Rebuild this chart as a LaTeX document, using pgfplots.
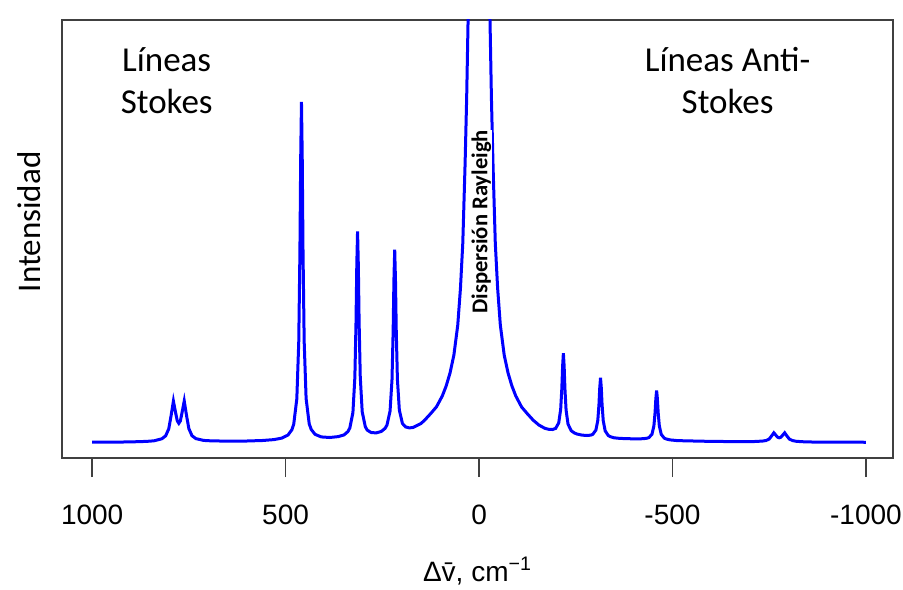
\documentclass[border=0pt]{standalone}
\usepackage{fontspec}
\setmainfont{Carlito}
\newfontfamily\arial{Liberation Sans}
\usepackage{pgfplots}
\pgfplotsset{compat=1.18}

\begin{document}
\begin{tikzpicture}
\begin{axis}[
    name=ax,
    scale only axis,
    width=415.5pt, height=219pt,
    x dir=reverse,
    xmin=-1070, xmax=1078,
    ymin=-15, ymax=423,
    axis line style={black!75, line width=0.8pt},
    xtick={1000,500,0,-500,-1000},
    xticklabels={1000,500,0,-500,-1000},
    ytick=\empty,
    xtick pos=bottom,
    tick align=outside,
    major tick length=9.5pt,
    tick style={black!75, line width=0.8pt},
    xticklabel style={font=\arial\fontsize{14}{14}\selectfont},
    xticklabel shift=10.5pt,
    xlabel={\arial\fontsize{14}{14}\selectfont Δ\={v}, cm\textsuperscript{−1}},
    xlabel style={at={(axis description cs:0.5,0)}, anchor=north, yshift=-46pt},
    ylabel={\fontsize{16.5}{16.5}\selectfont Intensidad},
    ylabel style={at={(axis description cs:-0.04,0.539)}, anchor=center},
]
% espectro Raman: Stokes (x>0), Rayleigh (0), anti-Stokes (x<0)
\addplot[blue, line width=1.5pt] coordinates {
    (1000,0.8) (950,0.85) (900,1.1) (860,1.6) (840,2.2) (820,4.2) (810,7.2)
    (802,14.2) (796,27.3) (790,41.9) (784,29.7) (780,22.1) (776,19.7) (772,22.1)
    (768,29.7) (762,42.0) (756,27.3) (750,14.3) (742,7.3) (732,4.4) (712,2.6)
    (690,2.1) (650,1.9) (600,2.0) (560,2.5) (530,3.4) (510,4.9) (494,7.9)
    (484,13.1) (479,18.8) (471,44.2) (466,101.3) (463,191.6) (461,284.8) (459,341)
    (457,284.8) (455,191.6) (452,101.5) (447,44.4) (439,19.3) (434,13.7) (424,8.7)
    (408,6.1) (386,5.5) (364,6.4) (349,8.1) (339,11.4) (334,15) (326,30.5)
    (321,65.5) (318,120.6) (316,177.5) (314,211.6) (312,177.6) (310,120.9) (307,65.9)
    (302,31.2) (294,16.3) (289,12.9) (279,10.5) (266,10.1) (253,11.5) (243,14.6)
    (238,17.9) (230,31.9) (225,63.1) (222,112.3) (220,163) (218,193.3) (216,163)
    (214,112.7) (211,63.6) (206,32.9) (198,19.5) (190,16.1) (180,15.1) (170,15.6)
    (160,17.6) (150,19.5) (140,23.1) (125,29.4) (110,36.2) (95,47) (85,57)
    (75,70) (65,88) (55,118) (48,155) (42,200) (36,280) (32,345) (28,430)
    (22,700) (15,1500) (0,5000)
    (-15,1500) (-22,700) (-28,430) (-32,345) (-36,280) (-42,200) (-48,155)
    (-55,118) (-65,88) (-75,70) (-85,57) (-95,47) (-110,36) (-125,29.2)
    (-140,22.8) (-155,17.9) (-170,14.7) (-180,13.7) (-190,13.5) (-198,14.6)
    (-206,20.2) (-211,33.6) (-214,54.7) (-216,76.7) (-218,89.9) (-220,76.6)
    (-222,54.3) (-225,32.8) (-230,18.9) (-238,12.4) (-246,10.1) (-253,9.0)
    (-266,7.9) (-279,7.5) (-289,7.9) (-294,8.7) (-302,12.9) (-307,22.7)
    (-310,38.7) (-312,55.2) (-314,65.2) (-316,55.2) (-318,38.5) (-321,22.4)
    (-326,12.2) (-334,7.5) (-339,6.4) (-349,5.2) (-364,4.6) (-386,4.3)
    (-408,4.1) (-424,4.3) (-434,4.8) (-439,5.4) (-447,8.8) (-452,17.2)
    (-455,30.5) (-457,44.3) (-459,52.5) (-461,44.3) (-463,30.5) (-466,17.1)
    (-471,8.6) (-479,4.8) (-484,4.0) (-494,3.1) (-510,2.5) (-530,2.2)
    (-560,1.95) (-600,1.6) (-650,1.45) (-690,1.4) (-712,1.5) (-732,1.9)
    (-742,2.5) (-750,4.0) (-756,6.95) (-762,10.2) (-768,7.45) (-772,5.75)
    (-776,5.2) (-780,5.75) (-784,7.45) (-790,10.2) (-796,6.95) (-802,4.0)
    (-810,2.5) (-820,1.7) (-840,1.2) (-860,1.0) (-900,0.85) (-950,0.8) (-1000,0.75)
};
\node[align=center, font=\fontsize{17.5}{21}\selectfont]
    at (rel axis cs:0.126,0.861) {Líneas\\Stokes};
\node[align=center, font=\fontsize{17.5}{21}\selectfont]
    at (rel axis cs:0.801,0.861) {Líneas Anti-\\Stokes};
\node[rotate=90, fill=white, inner sep=0.3pt, font=\bfseries\fontsize{11.3}{13}\selectfont]
    at (rel axis cs:0.5045,0.539) {Dispersión Rayleigh};
\end{axis}
\pgfresetboundingbox
\path[use as bounding box] ([xshift=-31pt,yshift=-65.5pt]ax.south west)
    rectangle ([xshift=5pt,yshift=10pt]ax.north east);
\end{tikzpicture}
\end{document}
